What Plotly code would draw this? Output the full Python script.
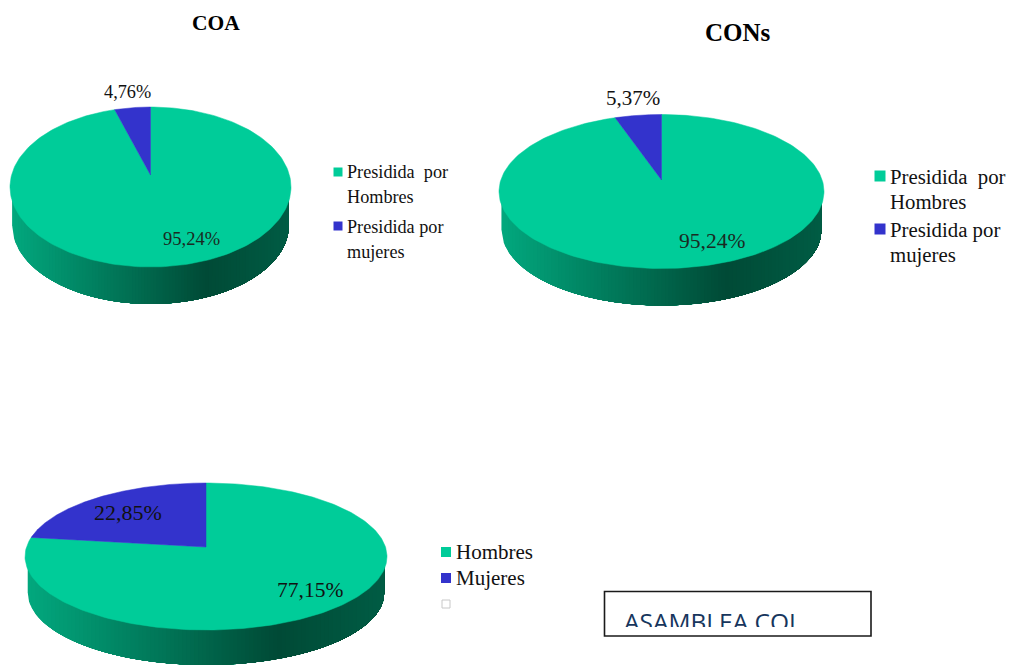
import numpy as np
import plotly.graph_objects as go

# ---- data ----
coa_labels = ["Presidida por Hombres", "Presidida por mujeres"]
coa_values = [95.24, 4.76]
cons_labels = ["Presidida por Hombres", "Presidida por mujeres"]
cons_values = [95.24, 5.37]
asamblea_labels = ["Hombres", "Mujeres"]
asamblea_values = [77.15, 22.85]

GREEN = "#00CC99"
BLUE = "#3333CC"
SERIF = "Liberation Serif, Times New Roman, serif"

fig = go.Figure()


def shade(t):
    stops = [(0.0, (2, 168, 126)), (0.70, (0, 74, 54)), (1.0, (0, 92, 68))]
    for (t0, c0), (t1, c1) in zip(stops, stops[1:]):
        if t <= t1:
            f = (t - t0) / (t1 - t0)
            return "rgb(%d,%d,%d)" % tuple(round(a + (b - a) * f) for a, b in zip(c0, c1))
    return "rgb(0,92,68)"


def pie3d(values, cx, rx, top, bottom, apex_y, depth):
    up, down = apex_y - top, bottom - apex_y
    k = (down - up) / (down + up)
    b = up * (1 + k)
    a = rx * np.sqrt(1 - k * k)

    def project(theta):
        u, v = np.sin(theta), np.cos(theta)
        w = 1 + k * v
        return cx + a * u / w, apex_y - b * v / w

    # side wall: a horizontal gradient painted left to right; every layer runs
    # on to the right end of the wall, so no seams show between the layers
    ry = (bottom - top) / 2
    cy = (bottom + top) / 2
    rxb, ryb = rx * 0.985, ry * 0.985
    cyb = bottom + depth - ryb
    n = 90
    edges = np.linspace(cx - rxb, cx + rxb, n + 1)
    for i in range(n):
        xs = np.linspace(edges[i], cx + rxb, 3 * (n - i) + 2)
        ys = cyb + ryb * np.sqrt(np.clip(1 - ((xs - cx) / rxb) ** 2, 0, 1))
        fig.add_trace(go.Scatter(
            x=np.r_[xs, xs[-1], xs[0]], y=np.r_[ys, cy, cy],
            mode="lines", fill="toself", fillcolor=shade((i + 0.5) / n),
            line=dict(width=0), hoverinfo="skip", showlegend=False))

    # top face: slices start at 12 o'clock and run clockwise
    shares = np.array(values, dtype=float) / sum(values)
    starts = np.r_[0, np.cumsum(shares)[:-1]]
    for s, f, col in zip(starts, shares, [GREEN, BLUE]):
        th = 2 * np.pi * np.linspace(s, s + f, 240)
        px, py = project(th)
        fig.add_trace(go.Scatter(
            x=np.r_[cx, px, cx], y=np.r_[apex_y, py, apex_y],
            mode="lines", fill="toself", fillcolor=col,
            line=dict(color=col, width=0.5), hoverinfo="skip", showlegend=False))


pie3d(coa_values, 150.5, 140.5, 107, 267, 175, 37)
pie3d(cons_values, 661.5, 162.5, 114.5, 268.5, 180, 37)
pie3d(asamblea_values, 206, 181, 483, 630, 547, 35)


def pct(v):
    return f"{v:.2f}%".replace(".", ",")


def txt(x, y, s, size, anchor="left", bold=False, color="#111111", family=SERIF):
    fig.add_annotation(x=x, y=y, text=f"<b>{s}</b>" if bold else s, showarrow=False,
                       xanchor=anchor, yanchor="middle", xref="x", yref="y",
                       font=dict(family=family, size=size, color=color))


# titles
txt(215.5, 23, "COA", 21.5, "center", True, "#000000")
txt(737.5, 32, "CONs", 25, "center", True, "#000000")

# slice labels
txt(191, 239, pct(coa_values[0]), 18.5, "center", color="#1a2a22")
txt(127.5, 92, pct(coa_values[1]), 18.3, "center")
txt(712, 241, pct(cons_values[0]), 21.5, "center", color="#1a2a22")
txt(633, 98, pct(cons_values[1]), 21, "center")
txt(310, 590, pct(asamblea_values[0]), 21.5, "center")
txt(128, 512, pct(asamblea_values[1]), 22, "center")


def key(xs, ys, cols, size=9):
    fig.add_trace(go.Scatter(x=xs, y=ys, mode="markers", hoverinfo="skip", showlegend=False,
                             marker=dict(symbol="square", size=size, color=cols, line=dict(width=0))))


# legends
key([338, 338], [172, 226], [GREEN, BLUE])
for y, s in zip([172, 197, 227, 252],
                ["Presidida\u00a0 por", "Hombres", "Presidida por", "mujeres"]):
    txt(345, y, s, 18.2)

key([880, 880], [176, 229], [GREEN, BLUE], 11)
for y, s in zip([177, 201, 230, 255],
                ["Presidida\u00a0 por", "Hombres", "Presidida por", "mujeres"]):
    txt(888, y, s, 20.8)

key([446, 446], [552, 578], [GREEN, BLUE], 10)
for y, s in zip([552, 578], asamblea_labels):
    txt(454, y, s, 21)
fig.add_trace(go.Scatter(x=[446], y=[604], mode="markers", hoverinfo="skip", showlegend=False,
                         marker=dict(symbol="square-open", size=8, color="#c8c8c8", line=dict(width=1))))

# text box whose text is cut off by its lower edge
fig.add_trace(go.Scatter(x=[624], y=[625], mode="text", text=["ASAMBLEA COL"],
                         textposition="middle right", hoverinfo="skip", showlegend=False,
                         textfont=dict(family="Open Sans, Noto Sans, sans-serif", size=24.5, color="#17365D")))
fig.add_shape(type="rect", x0=605, x1=871, y0=627, y1=640, layer="above",
              fillcolor="white", line=dict(width=0))
fig.add_shape(type="rect", x0=604.5, x1=871, y0=591.5, y1=636, layer="above",
              fillcolor="rgba(0,0,0,0)", line=dict(color="#1a1a1a", width=1.6))

fig.update_xaxes(range=[0, 1012], visible=False, fixedrange=True)
fig.update_yaxes(range=[666, 0], visible=False, fixedrange=True)
fig.update_layout(width=1012, height=666, margin=dict(l=0, r=0, t=0, b=0),
                  paper_bgcolor="white", plot_bgcolor="white", showlegend=False)

fig.write_html("out.html", config={"displayModeBar": False},
               post_script="document.body.style.margin='0';document.body.style.overflow='hidden';")
